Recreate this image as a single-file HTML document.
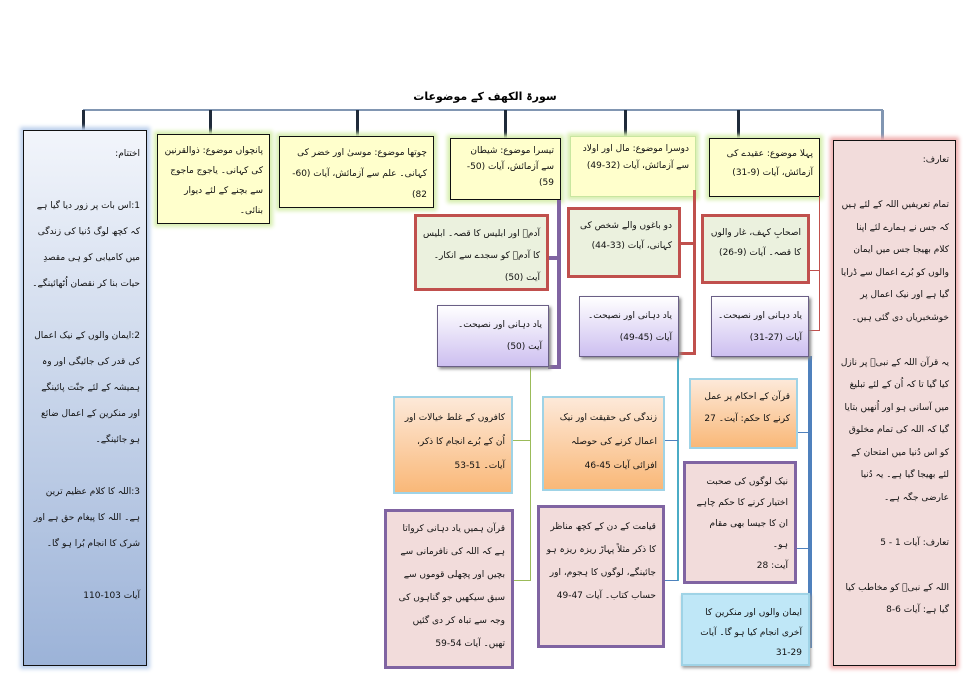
<!DOCTYPE html>
<html><head><meta charset="utf-8">
<style>
body{margin:0;width:963px;height:681px;background:#fff;position:relative;overflow:hidden;font-family:"DejaVu Sans",sans-serif;}
.b{position:absolute;box-sizing:border-box;direction:rtl;text-align:right;font-size:9px;color:#111;padding:4px 6px;line-height:18px;overflow:hidden;}
.y{background:#ffffcc;border:1.5px solid #111;box-shadow:0 0 4px 3px #d8efb0;}
.g{background:#ebf1de;border:3px solid #c0504d;}
.p{background:linear-gradient(#fff,#cdbff0);border:1px solid #6a5f86;box-shadow:2px 2px 3px #888;}
.o{background:linear-gradient(#fde9d9,#f9b878);border:2px solid #9fd3e6;}
.k{background:#f2dcdb;border:3px solid #8064a2;}
.l{position:absolute;}
</style></head><body>
<div class="l" style="left:405px;top:90px;width:160px;text-align:center;font-size:11px;font-weight:bold;direction:rtl;white-space:nowrap">سورۃ الکھف کے موضوعات</div>
<div class="l" style="left:83px;top:109px;width:800px;height:2px;background:#8196b2"></div>
<div class="l" style="left:82px;top:110px;width:3px;height:20px;background:#1f2a3a"></div>
<div class="l" style="left:209px;top:110px;width:3px;height:24px;background:#1f2a3a"></div>
<div class="l" style="left:356px;top:110px;width:3px;height:26px;background:#1f2a3a"></div>
<div class="l" style="left:504px;top:110px;width:3px;height:28px;background:#1f2a3a"></div>
<div class="l" style="left:624px;top:110px;width:3px;height:26px;background:#1f2a3a"></div>
<div class="l" style="left:737px;top:110px;width:3px;height:28px;background:#1f2a3a"></div>
<div class="l" style="left:881px;top:110px;width:3px;height:30px;background:#8196b2"></div>

<div class="b" style="left:23px;top:130px;width:124px;height:536px;background:linear-gradient(#f2f5fb,#9cb3d8);border:1.5px solid #111;box-shadow:0 0 4px 3px #bcd0ec;line-height:26px;padding-top:10px">اختتام:<br><br>1:اس بات پر زور دیا گیا ہے کہ کچھ لوگ دُنیا کی زندگی میں کامیابی کو ہی مقصدِ حیات بنا کر نقصان اُٹھائینگے۔<br><br>2:ایمان والوں کے نیک اعمال کی قدر کی جائیگی اور وہ ہمیشہ کے لئے جنّت پائینگے اور منکرین کے اعمال ضائع ہو جائینگے۔<br><br>3:اللہ کا کلام عظیم ترین ہے۔ اللہ کا پیغام حق ہے اور شرک کا انجام بُرا ہو گا۔<br><br>آیات 103-110</div>

<div class="b y" style="left:157px;top:134px;width:113px;height:90px;line-height:20px;padding-top:6px">پانچواں موضوع: ذوالقرنین کی کہانی۔ یاجوج ماجوج سے بچنے کے لئے دیوار بنائی۔</div>
<div class="b y" style="left:279px;top:136px;width:155px;height:72px;line-height:21px;padding-top:6px">چوتھا موضوع: موسیٰ اور خضر کی کہانی۔ علم سے آزمائش، آیات (60-82)</div>
<div class="b y" style="left:450px;top:138px;width:111px;height:62px;line-height:16px">تیسرا موضوع: شیطان سے آزمائش، آیات (50-59)</div>
<div class="b y" style="left:570px;top:136px;width:126px;height:61px;border-color:#c8e6a0;line-height:17px">دوسرا موضوع: مال اور اولاد سے آزمائش، آیات (32-49)</div>
<div class="b y" style="left:709px;top:138px;width:111px;height:59px;line-height:19px;padding-top:6px">پہلا موضوع: عقیدے کی آزمائش، آیات (9-31)</div>

<div class="b" style="left:833px;top:140px;width:123px;height:526px;background:#f2dcdb;border:1.5px solid #111;box-shadow:0 0 4px 3px #f0b0b0;line-height:22.5px;padding-top:8px">تعارف:<br><br>تمام تعریفیں اللہ کے لئے ہیں کہ جس نے ہمارے لئے اپنا کلام بھیجا جس میں ایمان والوں کو بُرے اعمال سے ڈرایا گیا ہے اور نیک اعمال پر خوشخبریاں دی گئی ہیں۔<br><br>یہ قرآن اللہ کے نبیؐ پر نازل کیا گیا تا کہ اُن کے لئے تبلیغ میں آسانی ہو اور اُنھیں بتایا گیا کہ اللہ کی تمام مخلوق کو اس دُنیا میں امتحان کے لئے بھیجا گیا ہے۔ یہ دُنیا عارضی جگہ ہے۔<br><br>تعارف: آیات 1 - 5<br><br>اللہ کے نبیؐ کو مخاطب کیا گیا ہے: آیات 6-8</div>

<div class="l" style="left:557px;top:200px;width:4px;height:169px;background:#8064a2"></div>
<div class="l" style="left:548px;top:256px;width:10px;height:4px;background:#8064a2"></div>
<div class="l" style="left:548px;top:365px;width:10px;height:4px;background:#8064a2"></div>
<div class="l" style="left:693px;top:190px;width:3px;height:165px;background:#c0504d"></div>
<div class="l" style="left:680px;top:242px;width:14px;height:3px;background:#c0504d"></div>
<div class="l" style="left:679px;top:352px;width:15px;height:3px;background:#c0504d"></div>
<div class="l" style="left:819px;top:196px;width:1px;height:135px;background:#c0504d"></div>
<div class="l" style="left:810px;top:270px;width:10px;height:1px;background:#c0504d"></div>
<div class="l" style="left:809px;top:330px;width:11px;height:1px;background:#c0504d"></div>
<div class="l" style="left:530px;top:366px;width:1px;height:215px;background:#9bbb59"></div>
<div class="l" style="left:512px;top:440px;width:18px;height:1px;background:#9bbb59"></div>
<div class="l" style="left:513px;top:580px;width:18px;height:1px;background:#9bbb59"></div>
<div class="l" style="left:677px;top:356px;width:2px;height:225px;background:#4bacc6"></div>
<div class="l" style="left:664px;top:440px;width:14px;height:1px;background:#4f81bd"></div>
<div class="l" style="left:664px;top:580px;width:14px;height:1px;background:#4f81bd"></div>
<div class="l" style="left:808px;top:356px;width:4px;height:292px;background:#4f81bd"></div>
<div class="l" style="left:797px;top:432px;width:12px;height:1px;background:#4f81bd"></div>
<div class="l" style="left:796px;top:548px;width:13px;height:1px;background:#4f81bd"></div>

<div class="b g" style="left:414px;top:214px;width:135px;height:77px;line-height:22px;padding-top:6px">آدمؑ اور ابلیس کا قصہ۔ ابلیس کا آدمؑ کو سجدے سے انکار۔ آیت (50)</div>
<div class="b g" style="left:567px;top:207px;width:114px;height:71px;line-height:20px;padding-top:6px">دو باغوں والے شخص کی کہانی، آیات (33-44)</div>
<div class="b g" style="left:701px;top:214px;width:109px;height:70px;line-height:20px;padding-top:6px">اصحابِ کہف، غار والوں کا قصہ۔ آیات (9-26)</div>

<div class="b p" style="left:437px;top:305px;width:112px;height:62px;line-height:22px;padding-top:8px">یاد دہانی اور نصیحت۔<br>آیت (50)</div>
<div class="b p" style="left:579px;top:296px;width:100px;height:61px;line-height:22px;padding-top:8px">یاد دہانی اور نصیحت۔<br>آیات (45-49)</div>
<div class="b p" style="left:711px;top:296px;width:98px;height:61px;line-height:22px;padding-top:8px">یاد دہانی اور نصیحت۔<br>آیات (27-31)</div>

<div class="b o" style="left:393px;top:396px;width:120px;height:98px;line-height:24px;padding-top:8px">کافروں کے غلط خیالات اور اُن کے بُرے انجام کا ذکر، آیات۔ 51-53</div>
<div class="b o" style="left:542px;top:396px;width:123px;height:95px;line-height:24px;padding-top:8px">زندگی کی حقیقت اور نیک اعمال کرنے کی حوصلہ افزائی آیات 45-46</div>
<div class="b o" style="left:689px;top:378px;width:109px;height:71px;line-height:22px;padding-top:6px">قرآن کے احکام پر عمل کرنے کا حکم: آیت۔ 27</div>

<div class="b k" style="left:384px;top:509px;width:130px;height:160px;line-height:23px;padding-top:6px">قرآن ہمیں یاد دہانی کرواتا ہے کہ اللہ کی نافرمانی سے بچیں اور پچھلی قوموں سے سبق سیکھیں جو گناہوں کی وجہ سے تباہ کر دی گئیں تھیں۔ آیات 54-59</div>
<div class="b k" style="left:537px;top:505px;width:128px;height:143px;line-height:23px;padding-top:8px">قیامت کے دن کے کچھ مناظر کا ذکر مثلاً پہاڑ ریزہ ریزہ ہو جائینگے، لوگوں کا ہجوم، اور حساب کتاب۔ آیات 47-49</div>
<div class="b k" style="left:683px;top:461px;width:114px;height:123px;line-height:21px;padding-top:8px">نیک لوگوں کی صحبت اختیار کرنے کا حکم چاہے ان کا جیسا بھی مقام ہو۔<br>آیت: 28</div>
<div class="b" style="left:681px;top:593px;width:129px;height:73px;background:#bfe7f7;border:2px solid #9fd3e6;box-shadow:1px 2px 3px #999;line-height:20px;padding-top:8px">ایمان والوں اور منکرین کا آخری انجام کیا ہو گا۔ آیات 29-31</div>
</body></html>
